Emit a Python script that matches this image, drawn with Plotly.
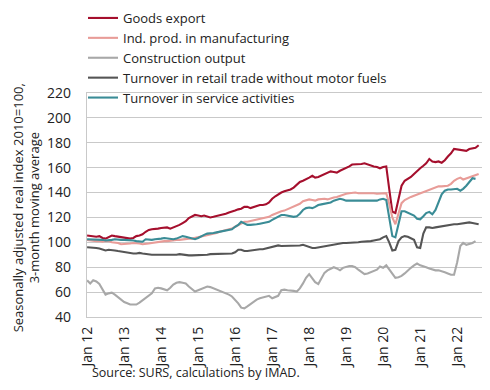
import pandas as pd
import plotly.graph_objects as go

start = "2012-01-01"

goods_export = [
    105.5, 105, 105, 104.5, 105, 103.5, 103, 104.5, 105.5, 105, 104.5, 104.5,
    104, 103.5, 103, 103.5, 105, 105.5, 106.5, 108.5, 110, 110.5, 110.5, 111,
    111.5, 111.5, 112, 111, 112, 112.5, 114, 115.5, 117, 119.5, 121, 122,
    121.5, 121, 121.5, 120.5, 120, 120.5, 121, 121.5, 122.5, 123, 124, 124.5,
    125.5, 126.5, 127, 128.5, 128.5, 127.5, 128.5, 129.5, 130, 130, 130.5, 132,
    135, 137, 138.5, 140, 141, 141.5, 142.5, 144, 146, 148.5, 149.5, 150.5,
    152, 153.5, 152, 152.5, 153.5, 154.5, 156, 157, 156.5, 156, 157.5, 158.5,
    160, 161, 162.5, 162.5, 162.5, 163, 163.5, 162.5, 162, 161, 160.5, 159.5,
    160.5, 161, 143, 124.5, 123.5, 136, 145.5, 149.5, 151, 152.5, 155, 157.5,
    159.5, 161.5, 163.5, 167, 165, 164.5, 165, 164, 166, 169, 171.5, 175,
    174.5, 174, 174, 173.5, 175, 175.5, 176, 178,
]

ind_prod_manufacturing = [
    102, 101.5, 101.5, 101, 101, 100.5, 101, 101, 100, 100, 99.5, 98.5,
    98.5, 99, 99, 99.5, 99.5, 99, 98.5, 98.5, 99, 99.5, 100, 100.5,
    100.5, 101, 101, 101.5, 101.5, 102, 102, 102.5, 102.5, 103, 103, 103.5,
    104.5, 105, 105.5, 106, 106.5, 107, 107.5, 108.5, 109, 109.5, 110, 111,
    112.5, 114, 115.5, 116.5, 116.5, 117, 117.5, 118, 118.5, 119, 119.5, 120.5,
    122, 123, 124.5, 125, 125.5, 126.5, 127.5, 128.5, 129.5, 131, 133, 134,
    134.5, 134, 133.5, 134.5, 135, 135, 134.5, 135.5, 136, 136.5, 137.5, 138.5,
    139, 139.5, 140, 140, 139.5, 139.5, 140, 140, 139.5, 139.5, 139, 139,
    139.5, 139.5, 131, 120, 114.5, 124, 131.5, 134, 135.5, 136.5, 137.5, 138.5,
    139, 140.5, 141.5, 142.5, 143.5, 144.5, 145, 145, 145, 145.5, 147, 149.5,
    151, 152, 150.5, 151.5, 152.5, 153.5, 154.5, 155,
]

construction_output = [
    69.5, 67, 69.5, 68.5, 66.5, 62, 58, 59, 59.5, 58, 56, 54.5,
    52, 51, 50, 50, 50, 51.5, 53.5, 55, 57, 59, 63, 63.5,
    63, 62, 61.5, 63.5, 66, 67.5, 68, 67.5, 67, 64.5, 62.5, 60.5,
    61.5, 62.5, 64, 64.5, 64, 63, 62.5, 61.5, 60.5, 59.5, 58, 56.5,
    54, 51, 47.5, 47, 48.5, 50.5, 52.5, 54, 55, 55.5, 56, 57,
    55, 56, 57, 61.5, 62, 61.5, 61.5, 61, 60.5, 63, 67, 71.5,
    74.5, 71, 68, 66.5, 71.5, 75.5, 77.5, 78.5, 80, 79, 77.5, 79.5,
    80.5, 81, 81, 80, 78, 76.5, 74.5, 75, 76, 76.5, 78, 80.5,
    79.5, 81.5, 78.5, 74.5, 71.5, 72, 73, 75, 77.5, 79.5, 81.5, 83,
    81.5, 81, 80, 79, 78, 77.5, 77.5, 77, 76, 75, 74, 74,
    84, 97, 99.5, 98, 98.5, 99.5, 101,
]

retail_trade = [
    96, 96, 96, 95.5, 95, 94, 93.5, 94, 94, 93.5, 93, 92.5,
    92, 91.5, 91.5, 91, 91, 91.5, 91, 90.5, 90, 90, 90, 90,
    90, 90, 90, 89.5, 89.5, 90, 90.5, 90, 89.5, 89.5, 89.5, 89.5,
    90, 90, 90, 90, 90.5, 90.5, 90.5, 90.5, 90.5, 91, 91, 91,
    92, 94, 94, 93, 93, 93.5, 93.5, 94, 94.5, 94.5, 95, 95.5,
    96.5, 97, 97.5, 97, 97, 97, 97, 97, 97, 97.5, 98, 97,
    96, 95.5, 95.5, 96, 96.5, 97, 97.5, 98, 98, 98.5, 99, 99.5,
    99.5, 99.5, 100, 100, 100, 100.5, 100.5, 100.5, 101, 101.5, 102, 102.5,
    104, 105, 100, 93.5, 94, 101, 104, 105, 104.5, 103.5, 102, 96,
    95.5, 107, 112, 112, 111.5, 112, 112.5, 112.5, 113, 113.5, 114, 114.5,
    114.5, 115, 115, 115.5, 116, 115.5, 115, 114.5,
]

service_activities = [
    102.5, 102.5, 102.5, 102.5, 102.5, 102, 101.5, 101.5, 102, 102.5, 102, 102,
    102, 102, 101.5, 101.5, 101, 101, 100.5, 102.5, 102, 102, 102.5, 102.5,
    103, 103.5, 103, 102.5, 102.5, 103, 104, 105, 104.5, 104, 103.5, 102.5,
    103.5, 105, 106, 107, 107, 107.5, 108, 108.5, 109, 109.5, 110, 110.5,
    112.5, 114, 116.5, 115.5, 114, 114, 114, 114.5, 115, 115.5, 115.5, 116.5,
    118, 119.5, 120.5, 122, 122, 121.5, 120.5, 120.5, 121, 123, 126, 127.5,
    128, 127.5, 128.5, 130, 130.5, 131, 131, 132, 133.5, 134.5, 135, 134.5,
    133.5, 133.5, 133.5, 133.5, 134, 134, 133.5, 133.5, 134, 134, 133.5, 134.5,
    135, 134, 121, 105, 104, 115, 125, 125, 124, 122.5, 121.5, 119,
    118.5, 121, 123.5, 124.5, 122.5, 126, 133, 138.5, 141.5, 142.5, 142.5, 143,
    143, 141.5, 143, 145.5, 148.5, 151.5, 151,
]

series_names = [
    "Goods export",
    "Ind. prod. in manufacturing",
    "Construction output",
    "Turnover in retail trade without motor fuels",
    "Turnover in service activities",
]
series_values = [goods_export, ind_prod_manufacturing, construction_output,
                 retail_trade, service_activities]
series_colors = ["#A50F2D", "#E89C98", "#A8A8A8", "#555555", "#3A8C96"]

y_title_line1 = "Seasonally adjusted real index 2010=100,"
y_title_line2 = "3-month moving average"
source_text = "Source: SURS, calculations by IMAD."

font_family = "Open Sans, Liberation Sans, Arial, sans-serif"
text_color = "#222222"
grid_color = "#C9C9C9"

# page renders with an 8px body margin, so the figure is laid out 8px up/left
PL, PT, PW, PH = 79, 85, 395, 224
W, H = 490, 390

fig = go.Figure()
for name, vals, col in zip(series_names, series_values, series_colors):
    dates = pd.date_range(start, periods=len(vals), freq="MS")
    fig.add_trace(go.Scatter(
        x=dates, y=vals, name=name, mode="lines",
        line=dict(color=col, width=2.1),
    ))

fig.update_layout(
    width=W, height=H,
    margin=dict(l=PL, r=W - PL - PW, t=PT, b=H - PT - PH, autoexpand=False),
    paper_bgcolor="white", plot_bgcolor="white",
    font=dict(family=font_family, size=14, color=text_color),
    showlegend=True,
    legend=dict(
        xref="container", yref="paper",
        x=75 / W, y=(PT + PH + 5) / PH, xanchor="left", yanchor="top",
        bgcolor="rgba(0,0,0,0)", borderwidth=0,
        font=dict(size=13, color=text_color),
        tracegroupgap=0, itemwidth=30,
    ),
    xaxis=dict(
        type="date",
        range=["2011-12-31", "2022-09-03"],
        dtick="M12", tick0="2012-01-01",
        tickformat="%b %y", tickangle=-90,
        showgrid=False, zeroline=False,
        showline=True, linecolor=grid_color, linewidth=1.3, mirror=True,
        ticks="", ticklabelstandoff=3,
        tickfont=dict(size=14),
    ),
    yaxis=dict(
        range=[40, 220], dtick=20, tick0=40,
        showgrid=True, gridcolor=grid_color, gridwidth=1.3,
        zeroline=False,
        showline=True, linecolor=grid_color, linewidth=1.3, mirror=True,
        ticks="", ticklabelstandoff=12,
        tickfont=dict(size=14),
        automargin=False,
    ),
    annotations=[
        dict(text=y_title_line1, xref="paper", yref="paper",
             x=(10 - PL) / PW, y=0.485, xanchor="center", yanchor="middle",
             textangle=-90, showarrow=False,
             font=dict(size=13, color=text_color)),
        dict(text=y_title_line2, xref="paper", yref="paper",
             x=(26 - PL) / PW, y=0.485, xanchor="center", yanchor="middle",
             textangle=-90, showarrow=False,
             font=dict(size=13, color=text_color)),
        dict(text=source_text, xref="paper", yref="paper",
             x=(82 - PL) / PW, y=(PT + PH - 364) / PH,
             xanchor="left", yanchor="middle",
             showarrow=False, font=dict(size=12.5, color=text_color)),
    ],
)

fig.write_html("out.html")
